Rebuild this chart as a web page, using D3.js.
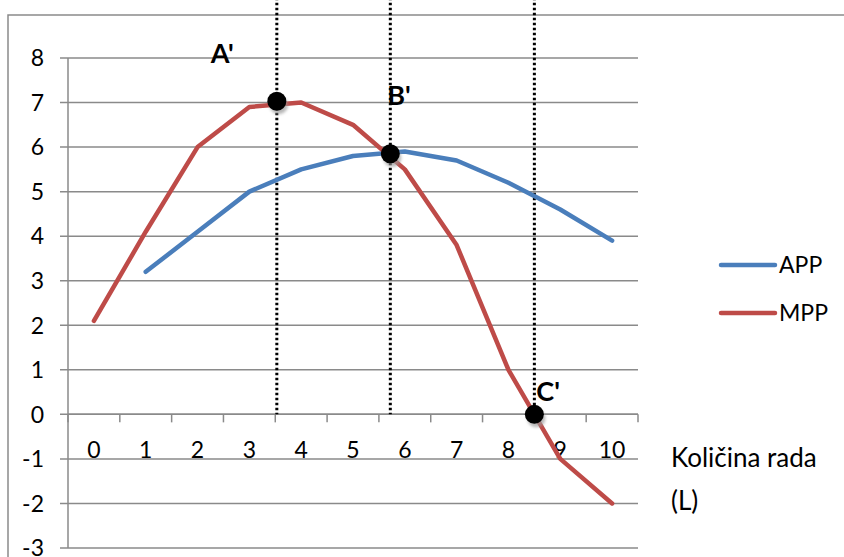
<!DOCTYPE html>
<html lang="sr">
<head>
<meta charset="utf-8">
<script src="https://cdn.jsdelivr.net/npm/d3@7"></script>
<style>
  body { margin: 0; background: #fff; }
  svg { font-family: Lato, "Open Sans", sans-serif; }
  .grid line { stroke: #8a8a8a; stroke-width: 1.5; }
</style>
</head>
<body>
<svg width="844" height="557"></svg>
<script>
// data
const categories = [0, 1, 2, 3, 4, 5, 6, 7, 8, 9, 10];
const app = [null, 3.2, 4.1, 5.0, 5.5, 5.8, 5.9, 5.7, 5.2, 4.6, 3.9];
const mpp = [2.1, 4.1, 6.0, 6.9, 7.0, 6.5, 5.5, 3.8, 1.0, -1.0, -2.0];
const yTicks = [-3, -2, -1, 0, 1, 2, 3, 4, 5, 6, 7, 8];
// marked points A', B', C' (x in category units, y value)
const marks = [
  { name: "A'", x: 3.53, y: 7.03 },
  { name: "B'", x: 5.72, y: 5.85 },
  { name: "C'", x: 8.5, y: 0 }
];
const seriesNames = ["APP", "MPP"];
const colors = { APP: "#4a7ebb", MPP: "#be4b48" };

const svg = d3.select("svg");

const x = d3.scaleLinear().domain([-0.5, 10.5]).range([68, 638]);
const y = d3.scaleLinear().domain([-3, 8]).range([548, 58]);

// outer frame (top and left edges visible)
svg.append("path")
  .attr("d", "M8,557V15H844")
  .attr("fill", "none")
  .attr("stroke", "#8a8a8a")
  .attr("stroke-width", 1.5);

// horizontal gridlines
svg.append("g").attr("class", "grid")
  .selectAll("line").data(yTicks).join("line")
  .attr("x1", 60).attr("x2", x(10.5))
  .attr("y1", d => y(d)).attr("y2", d => y(d));

// y axis line
svg.append("line")
  .attr("x1", x(-0.5)).attr("x2", x(-0.5))
  .attr("y1", y(8)).attr("y2", y(-3))
  .attr("stroke", "#8a8a8a").attr("stroke-width", 1.5);

// y tick labels
svg.append("g").selectAll("text").data(yTicks).join("text")
  .attr("x", 44).attr("y", d => y(d))
  .attr("dy", "0.36em")
  .attr("text-anchor", "end")
  .attr("font-size", 23)
  .text(d => d);

// x axis at zero with category ticks
const xAxis = svg.append("g").attr("transform", `translate(0,${y(0)})`);
xAxis.append("line")
  .attr("x1", x(-0.5)).attr("x2", x(10.5))
  .attr("stroke", "#8a8a8a").attr("stroke-width", 1.5);
xAxis.selectAll("line.tk").data(d3.range(-0.5, 11, 1)).join("line")
  .attr("class", "tk")
  .attr("x1", d => x(d)).attr("x2", d => x(d))
  .attr("y1", 0).attr("y2", 8)
  .attr("stroke", "#8a8a8a").attr("stroke-width", 1.5);
xAxis.selectAll("text").data(categories).join("text")
  .attr("x", d => x(d)).attr("y", 44)
  .attr("text-anchor", "middle")
  .attr("font-size", 23)
  .text(d => d);

// dotted drop lines
svg.append("g").selectAll("line").data(marks).join("line")
  .attr("x1", d => x(d.x)).attr("x2", d => x(d.x))
  .attr("y1", y(9.35)).attr("y2", y(0))
  .attr("stroke", "#000").attr("stroke-width", 3)
  .attr("stroke-dasharray", "2.5,2.5");

// series lines
const line = d3.line()
  .defined(d => d.v !== null)
  .x(d => x(d.c)).y(d => y(d.v));
const series = [
  { name: "APP", values: categories.map((c, i) => ({ c, v: app[i] })) },
  { name: "MPP", values: categories.map((c, i) => ({ c, v: mpp[i] })) }
];
svg.append("g").selectAll("path").data(series).join("path")
  .attr("d", d => line(d.values))
  .attr("fill", "none")
  .attr("stroke", d => colors[d.name])
  .attr("stroke-width", 4.5)
  .attr("stroke-linejoin", "round")
  .attr("stroke-linecap", "round");

// marked dots with shadow
const defs = svg.append("defs");
defs.append("filter").attr("id", "blur")
  .attr("x", "-50%").attr("y", "-50%").attr("width", "200%").attr("height", "200%")
  .append("feGaussianBlur").attr("stdDeviation", 1.5);
const dots = svg.append("g").selectAll("g").data(marks).join("g");
dots.append("circle")
  .attr("cx", d => x(d.x) + 2).attr("cy", d => y(d.y) + 4)
  .attr("r", 9).attr("fill", "#999").attr("opacity", 0.7)
  .attr("filter", "url(#blur)");
dots.append("circle")
  .attr("cx", d => x(d.x)).attr("cy", d => y(d.y))
  .attr("r", 9.5).attr("fill", "#000");

// labels A', B', C'
const labelOffsets = { "A'": [-66, -38], "B'": [-3, -49], "C'": [2, -13] };
svg.append("g").selectAll("text").data(marks).join("text")
  .attr("x", d => x(d.x) + labelOffsets[d.name][0])
  .attr("y", d => y(d.y) + labelOffsets[d.name][1])
  .attr("font-size", 27)
  .attr("font-weight", "bold")
  .text(d => d.name);

// x axis title
const title = svg.append("text").attr("font-size", 26);
title.append("tspan").attr("x", 671).attr("y", 467).text("Količina rada");
title.append("tspan").attr("x", 671).attr("y", 510).text("(L)");

// legend
const legend = svg.append("g").selectAll("g").data(seriesNames).join("g")
  .attr("transform", (d, i) => `translate(721,${265 + i * 48})`);
legend.append("line")
  .attr("x1", 0).attr("x2", 54)
  .attr("stroke", d => colors[d]).attr("stroke-width", 4.5)
  .attr("stroke-linecap", "round");
legend.append("text")
  .attr("x", 58).attr("dy", "0.36em")
  .attr("font-size", 23)
  .text(d => d);
</script>
</body>
</html>
